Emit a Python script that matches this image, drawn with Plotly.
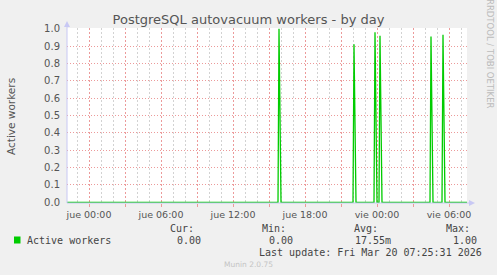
import plotly.graph_objects as go

# ---- data ----
times = ["2026-03-18 22:10", "2026-03-19 15:45", "2026-03-19 15:50", "2026-03-19 16:00",
         "2026-03-19 22:00", "2026-03-19 22:05", "2026-03-19 22:15",
         "2026-03-19 23:45", "2026-03-19 23:50", "2026-03-20 00:00",
         "2026-03-20 00:10", "2026-03-20 00:15", "2026-03-20 00:25",
         "2026-03-20 04:25", "2026-03-20 04:30", "2026-03-20 04:40",
         "2026-03-20 05:25", "2026-03-20 05:30", "2026-03-20 05:40",
         "2026-03-20 07:30"]
workers = [0, 0, 1.0, 0,
           0, 0.91, 0,
           0, 0.98, 0,
           0, 0.96, 0,
           0, 0.955, 0,
           0, 0.965, 0,
           0]
x_start = "2026-03-18 22:10"
x_end = "2026-03-20 07:30"
xtick_vals = ["2026-03-19 00:00", "2026-03-19 03:00", "2026-03-19 06:00", "2026-03-19 09:00",
              "2026-03-19 12:00", "2026-03-19 15:00", "2026-03-19 18:00", "2026-03-19 21:00",
              "2026-03-20 00:00", "2026-03-20 03:00", "2026-03-20 06:00"]
xtick_text = ["jue 00:00", "", "jue 06:00", "", "jue 12:00", "", "jue 18:00", "",
              "vie 00:00", "", "vie 06:00"]
ytick_vals = [0.0, 0.1, 0.2, 0.3, 0.4, 0.5, 0.6, 0.7, 0.8, 0.9, 1.0]
ytick_text = ["0.0", "0.1", "0.2", "0.3", "0.4", "0.5", "0.6", "0.7", "0.8", "0.9", "1.0"]
series_name = "Active workers"
stat_labels = ["Cur:", "Min:", "Avg:", "Max:"]
stat_values = ["0.00", "0.00", "17.55m", "1.00"]
last_update = "Last update: Fri Mar 20 07:25:31 2026"

# ---- layout constants (pixels) ----
W, H = 497, 275
L, R, T, B = 67, 467, 28, 203

def px(p):
    return (p - L) / (R - L)

def py(p):
    return (B - p) / (B - T)

GREEN = "#00CC00"
RED_GRID = "#EC9A9A"
GREY_GRID = "#D2D2D2"
AXIS_BLUE = "#C8C8F4"
TXT = "#555555"

fig = go.Figure()
fig.add_trace(go.Scatter(x=times, y=workers, mode="lines",
                         line=dict(color=GREEN, width=1.3), showlegend=False,
                         hoverinfo="skip"))

fig.update_layout(
    width=W, height=H,
    margin=dict(l=L, r=W - R, t=T, b=H - B, pad=0),
    paper_bgcolor="#F0F0F0", plot_bgcolor="#FFFFFF",
    font=dict(family="DejaVu Sans", color=TXT, size=10),
    title=dict(text="PostgreSQL autovacuum workers - by day",
               x=0.5, xref="container", xanchor="center",
               y=1 - 19 / H, yref="container", yanchor="middle",
               font=dict(family="DejaVu Sans", size=13, color=TXT)),
    xaxis=dict(type="date", range=[x_start, x_end],
               tickmode="array", tickvals=xtick_vals, ticktext=xtick_text,
               showgrid=True, gridcolor=RED_GRID, griddash="2px,2px", gridwidth=1,
               ticks="outside", ticklen=3, tickcolor=RED_GRID, tickwidth=1,
               tickfont=dict(size=9.5, color=TXT),
               minor=dict(dtick=3600000, tick0="2026-03-18 00:00", showgrid=True,
                          gridcolor=GREY_GRID, griddash="2px,2px", gridwidth=1),
               showline=False, zeroline=False, fixedrange=True),
    yaxis=dict(range=[-0.004, 1.004], tickmode="array",
               tickvals=ytick_vals, ticktext=ytick_text,
               showgrid=True, gridcolor=RED_GRID, griddash="1px,2px", gridwidth=1,
               ticks="", ticklabelstandoff=6,
               tickfont=dict(size=10, color=TXT),
               showline=False, zeroline=False, fixedrange=True),
)

shapes = []
# y axis line + arrow
shapes.append(dict(type="line", xref="paper", yref="paper",
                   x0=0, x1=0, y0=0, y1=py(24), line=dict(color=AXIS_BLUE, width=1)))
shapes.append(dict(type="path", xref="paper", yref="paper",
                   path=f"M {px(64)},{py(27)} L {px(67)},{py(21)} L {px(70)},{py(27)} Z",
                   fillcolor=AXIS_BLUE, line=dict(color=AXIS_BLUE, width=0)))
# x axis line + arrow
shapes.append(dict(type="line", xref="paper", yref="paper",
                   x0=0, x1=px(470), y0=0, y1=0, line=dict(color=AXIS_BLUE, width=1)))
shapes.append(dict(type="path", xref="paper", yref="paper",
                   path=f"M {px(469)},{py(200)} L {px(475)},{py(203)} L {px(469)},{py(206)} Z",
                   fillcolor=AXIS_BLUE, line=dict(color=AXIS_BLUE, width=0)))
# legend colour box
shapes.append(dict(type="rect", xref="paper", yref="paper",
                   x0=px(14), x1=px(20.5), y0=py(243.5), y1=py(236.5),
                   fillcolor=GREEN, line=dict(width=0)))
fig.update_layout(shapes=shapes)

ann = []
MONO = "DejaVu Sans Mono"
def add_text(text, x, y, anchor="left", size=10, color="#444444", family=MONO, angle=0):
    ann.append(dict(text=text, x=px(x), y=py(y), xref="paper", yref="paper",
                    xanchor=anchor, yanchor="middle", showarrow=False,
                    textangle=angle, borderpad=0,
                    font=dict(family=family, size=size, color=color)))

# y axis title
add_text("Active workers", 11, 116, anchor="center", size=10.5, color=TXT,
         family="DejaVu Sans", angle=-90)
# rrdtool watermark
add_text("RRDTOOL / TOBI OETIKER", 490, 54, anchor="center", size=8.5, color="#BBBBBB",
         family="DejaVu Sans", angle=90)
# legend
add_text(series_name, 26, 240)
label_right = [194.5, 286.5, 378.5, 470.5]
value_right = [201.5, 293.5, 391.5, 477.5]
for lab, xr in zip(stat_labels, label_right):
    add_text(lab, xr, 228, anchor="right")
for val, xr in zip(stat_values, value_right):
    add_text(val, xr, 240, anchor="right")
add_text(last_update, 483, 252, anchor="right")
add_text("Munin 2.0.75", 248, 264, anchor="center", size=7.5, color="#C4C4C4",
         family="DejaVu Sans")
fig.update_layout(annotations=ann)

fig.write_html("out.html")
